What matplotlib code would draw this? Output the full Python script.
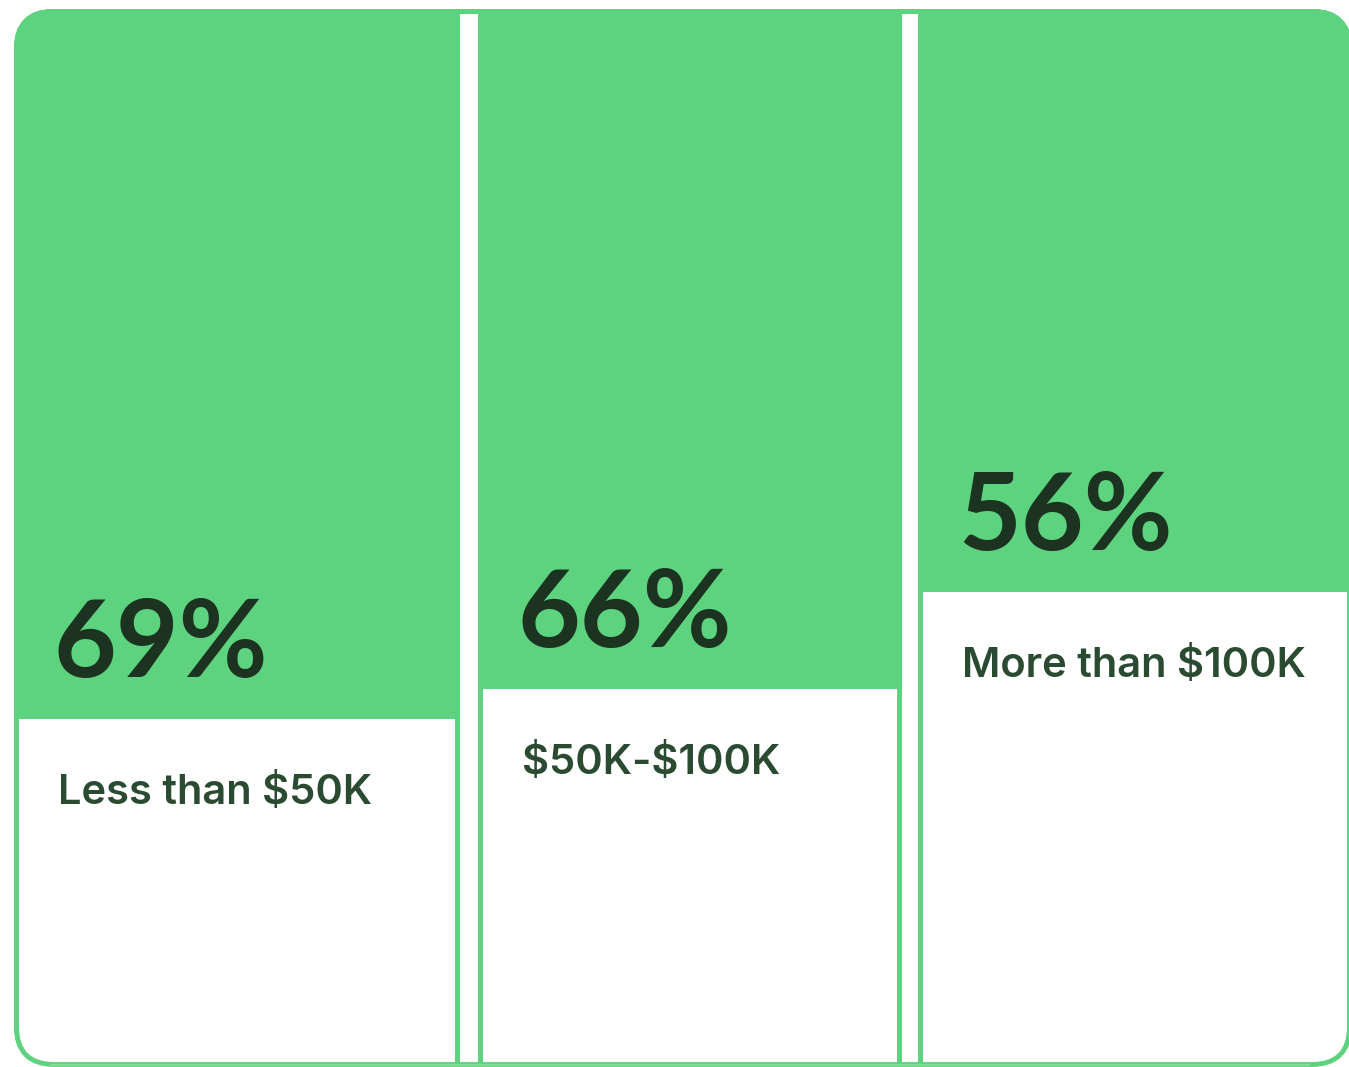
import matplotlib
matplotlib.use("Agg")
import matplotlib.pyplot as plt
from matplotlib.patches import FancyBboxPatch, Rectangle

# ---- data ----
categories = ["Less than $50K", "$50K-$100K", "More than $100K"]
values = [69, 66, 56]
value_labels = ["69%", "66%", "56%"]

GREEN = "#5ED37F"
DARK = "#1B3320"
LABEL = "#2A4A31"

W, H = 1349, 1067
fig = plt.figure(figsize=(W / 100, H / 100), dpi=100)
fig.patch.set_facecolor("white")

# background axes in pixel coordinates (layout)
bg = fig.add_axes([0, 0, 1, 1])
bg.set_xlim(0, W)
bg.set_ylim(H, 0)
bg.axis("off")

# data axes: y in percent, pixel y = A + B * value
A, B = 44.6, 9.77
def to_val(py):
    return (py - A) / B

ax = fig.add_axes([0, 0, 1, 1], facecolor="none")
ax.set_xlim(0, W)
ax.set_ylim(to_val(H), to_val(0))
ax.axis("off")

X0, Y0, X1, Y1 = 14, 9, 1352, 1066
# outer rounded card
outer = FancyBboxPatch((X0 + 2.5, Y0 + 2.5), X1 - X0 - 5, Y1 - Y0 - 4,
                       boxstyle="round,pad=0,rounding_size=38",
                       facecolor="white", edgecolor=GREEN, linewidth=3.5,
                       zorder=1)
bg.add_patch(outer)
clipper = FancyBboxPatch((X0, Y0), X1 - X0, Y1 - Y0,
                         boxstyle="round,pad=0,rounding_size=40",
                         facecolor="none", edgecolor="none")
bg.add_patch(clipper)

# top strip across gaps
top = Rectangle((X0, Y0), X1 - X0, 5, facecolor=GREEN, edgecolor="none", zorder=2)
bg.add_patch(top)
top.set_clip_path(clipper)

# panel extents (layout)
panels = [(14, 460), (478, 902), (918, 1352)]
border = 5

for i, ((x0, x1), v, vl, cat) in enumerate(zip(panels, values, value_labels, categories)):
    # green part: from top down to value
    g = ax.bar((x0 + x1) / 2, v - to_val(Y0), bottom=to_val(Y0), width=x1 - x0,
               color=GREEN, edgecolor="none", zorder=2)
    for p in g:
        p.set_clip_path(clipper)
    # green side borders down to bottom
    for xs in (x0, x1 - border):
        r = Rectangle((xs, Y0), border, Y1 - Y0, facecolor=GREEN,
                      edgecolor="none", zorder=2)
        bg.add_patch(r)
        r.set_clip_path(clipper)
    # value label
    ax.text(x0 + 40, v - 42 / B, vl, fontsize=78, fontweight="bold",
            family=["Lato", "DejaVu Sans"], color=DARK, va="baseline",
            ha="left", zorder=5)
    # category label
    ax.text(x0 + 44, v + 85 / B, cat.replace("$", r"\$"), fontsize=30,
            fontweight="semibold", family=["Inter", "DejaVu Sans"],
            color=LABEL, va="baseline", ha="left", zorder=5)

# bottom thin line
bg.add_patch(Rectangle((50, 1064), 1260, 2.5, facecolor="#7FDD98",
                       edgecolor="none", zorder=3, clip_path=clipper))

fig.savefig("out.png", dpi=100, facecolor="white")
